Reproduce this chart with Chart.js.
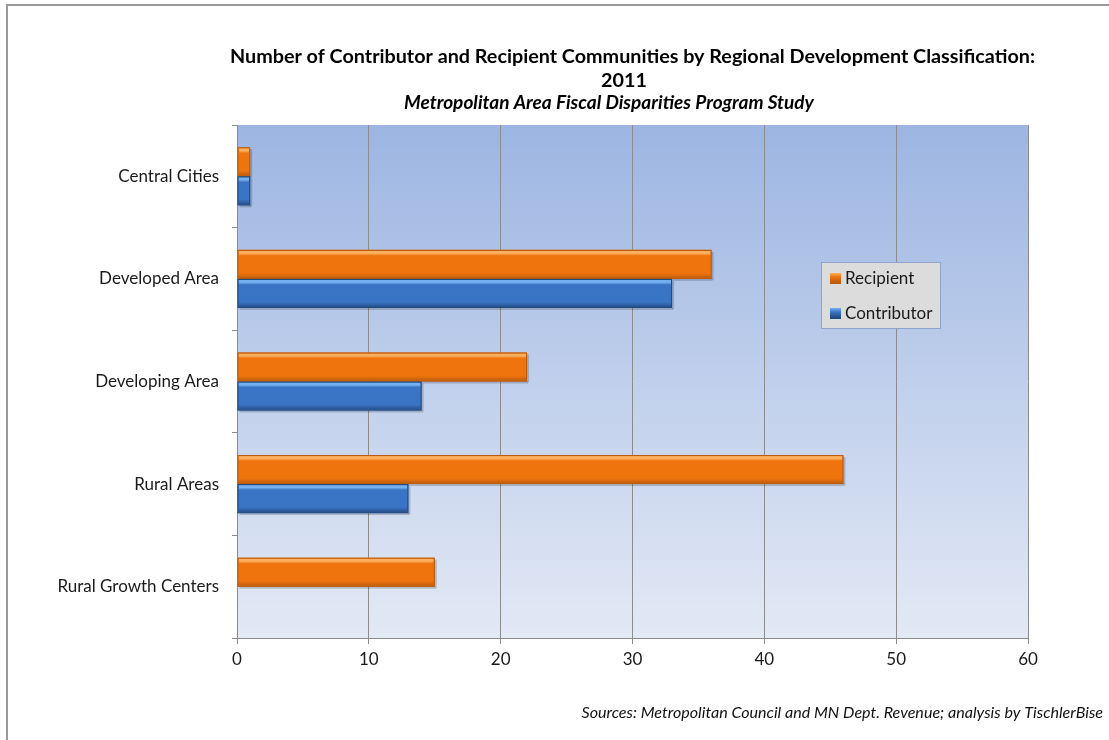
<!DOCTYPE html>
<html>
<head>
<meta charset="utf-8">
<script src="https://cdn.jsdelivr.net/npm/chart.js@4.4.1/dist/chart.umd.min.js"></script>
<style>
html,body{margin:0;padding:0;background:#fff;}
#wrap{position:relative;width:1109px;height:740px;overflow:hidden;}
#frame{position:absolute;left:6px;top:4px;width:1200px;height:800px;border-left:2px solid #9a9a9a;border-top:2px solid #9a9a9a;box-sizing:border-box;}
canvas{position:absolute;left:0;top:0;}
</style>
</head>
<body>
<div id="wrap">
<div id="frame"></div>
<canvas id="c" width="1109" height="740"></canvas>
</div>
<script>
const categories = ["Central Cities", "Developed Area", "Developing Area", "Rural Areas", "Rural Growth Centers"];
const recipient = [1, 36, 22, 46, 15];
const contributor = [1, 33, 14, 13, 0];
const xTicks = [0, 10, 20, 30, 40, 50, 60];
const titleLines = ["Number of Contributor and Recipient Communities by Regional Development Classification:", "2011"];
const subtitleText = "Metropolitan Area Fiscal Disparities Program Study";
const sourceText = "Sources: Metropolitan Council and MN Dept. Revenue; analysis by TischlerBise";

const FONT = "Lato, 'Liberation Sans', sans-serif";

function fitFont(ctx, text, style, target) {
  ctx.font = style + " 20px " + FONT;
  const w = ctx.measureText(text).width;
  const size = 20 * target / w;
  ctx.font = style + " " + size.toFixed(2) + "px " + FONT;
  return size;
}

const bgPlugin = {
  id: 'bg',
  beforeDraw(chart) {
    const {ctx, chartArea: a} = chart;
    ctx.save();
    const g = ctx.createLinearGradient(0, a.top, 0, a.bottom);
    g.addColorStop(0, '#9cb5e2');
    g.addColorStop(1, '#e3e9f5');
    ctx.fillStyle = g;
    ctx.fillRect(a.left, a.top, a.right - a.left, a.bottom - a.top);
    ctx.restore();
  },
  afterDraw(chart) {
    const {ctx, chartArea: a} = chart;
    ctx.save();
    ctx.fillStyle = '#000';
    ctx.textAlign = 'center';
    ctx.textBaseline = 'middle';
    const s = fitFont(ctx, titleLines[0], "bold", 805);
    ctx.fillText(titleLines[0], 632.5, 57);
    ctx.font = "bold " + s.toFixed(2) + "px " + FONT;
    ctx.fillText(titleLines[1], 624, 81);
    fitFont(ctx, subtitleText, "italic bold", 410);
    ctx.fillText(subtitleText, 609, 103);
    fitFont(ctx, sourceText, "italic", 522);
    ctx.textAlign = 'right';
    ctx.fillStyle = '#111';
    ctx.fillText(sourceText, 1103, 713);
    // legend
    const lx = 821, ly = 262, lw = 119, lh = 66;
    ctx.fillStyle = '#dcdcdc';
    ctx.fillRect(lx, ly, lw, lh);
    ctx.strokeStyle = '#8ea4cc';
    ctx.lineWidth = 1;
    ctx.strokeRect(lx + 0.5, ly + 0.5, lw, lh);
    ctx.textAlign = 'left';
    ctx.font = "17px " + FONT;
    chart.data.datasets.forEach((ds, i) => {
      const y = ly + 16 + i * 35;
      const g = ctx.createLinearGradient(0, y - 5, 0, y + 5);
      g.addColorStop(0, ds.hiColor);
      g.addColorStop(0.4, ds.backgroundColor);
      g.addColorStop(1, ds.borderColor);
      ctx.fillStyle = g;
      ctx.fillRect(830, y - 5, 11, 11);
      ctx.fillStyle = '#1a1a1a';
      ctx.fillText(ds.label, 845, y + 1);
    });
    ctx.restore();
  },
  afterDatasetsDraw(chart) {
    const ctx = chart.ctx;
    ctx.save();
    chart.data.datasets.forEach((ds, di) => {
      const meta = chart.getDatasetMeta(di);
      meta.data.forEach((bar) => {
        const p = bar.getProps(['x', 'y', 'base', 'height'], true);
        const left = Math.min(p.base, p.x), right = Math.max(p.base, p.x);
        if (right - left < 0.5) return;
        const top = p.y - p.height / 2, h = p.height;
        const g = ctx.createLinearGradient(0, top, 0, top + h);
        g.addColorStop(0, ds.hiColor);
        g.addColorStop(0.12, ds.hiColor);
        g.addColorStop(0.2, ds.backgroundColor);
        g.addColorStop(0.8, ds.backgroundColor);
        g.addColorStop(1, ds.borderColor);
        ctx.fillStyle = g;
        ctx.fillRect(left + 1, top + 1, right - left - 2, h - 2);
        ctx.strokeStyle = ds.borderColor;
        ctx.lineWidth = 1;
        ctx.strokeRect(left + 0.5, top + 0.5, right - left - 1, h - 1);
        ctx.fillStyle = 'rgba(0,0,0,0.18)';
        ctx.fillRect(right, top + 2, 2, h - 1);
        ctx.fillRect(left + 2, top + h, right - left - 1, 2);
      });
    });
    ctx.restore();
  }
};

new Chart(document.getElementById('c'), {
  type: 'bar',
  data: {
    labels: categories,
    datasets: [
      { label: 'Recipient', data: recipient, backgroundColor: '#f0740e', borderColor: '#b85a0c', hiColor: '#fbb060', borderWidth: 0, categoryPercentage: 0.566, barPercentage: 1 },
      { label: 'Contributor', data: contributor, backgroundColor: '#3a74c4', borderColor: '#22497f', hiColor: '#74b0f0', borderWidth: 0, categoryPercentage: 0.566, barPercentage: 1 }
    ]
  },
  options: {
    indexAxis: 'y',
    responsive: false,
    animation: false,
    layout: { padding: { left: 0, right: 81, top: 125, bottom: 0 } },
    plugins: { legend: { display: false }, title: { display: false }, tooltip: { enabled: false } },
    scales: {
      x: {
        min: 0, max: 60,
        afterBuildTicks(scale) { scale.ticks = xTicks.map(v => ({ value: v })); },
        afterFit(scale) { scale.height = 102; },
        grid: { color: '#8c8c8c', lineWidth: 1, drawOnChartArea: true, drawTicks: true, tickLength: 6, tickColor: '#8c8c8c' },
        border: { display: true, color: '#8c8c8c', width: 1 },
        ticks: { color: '#1a1a1a', font: { family: FONT, size: 17 }, padding: 5 }
      },
      y: {
        afterFit(scale) { scale.width = 237; },
        grid: { drawOnChartArea: false, drawTicks: true, tickLength: 5, tickColor: '#8c8c8c', offset: true },
        border: { display: true, color: '#8c8c8c', width: 1 },
        ticks: { color: '#1a1a1a', font: { family: FONT, size: 17 }, padding: 13 }
      }
    }
  },
  plugins: [bgPlugin]
});
</script>
</body>
</html>
